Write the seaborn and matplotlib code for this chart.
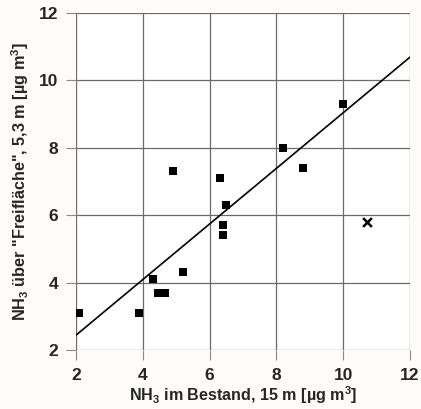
import matplotlib
matplotlib.use("Agg")
import matplotlib.pyplot as plt
import seaborn as sns
import pandas as pd

# Data
bestand_x = [2.1, 3.9, 4.3, 4.45, 4.65, 5.2, 4.9, 6.3, 6.4, 6.4, 6.5, 8.2, 8.8, 10.0]
frei_y    = [3.1, 3.1, 4.1, 3.7, 3.7, 4.3, 7.3, 7.1, 5.7, 5.4, 6.3, 8.0, 7.4, 9.3]
outlier_x = [10.7]
outlier_y = [5.8]
fit_x = [2.0, 12.0]
fit_y = [2.44, 10.69]
ticks = [2, 4, 6, 8, 10, 12]

sns.set_theme(style="white")
plt.rcParams['font.family'] = ['Liberation Sans', 'DejaVu Sans']
plt.rcParams['font.weight'] = 'bold'
plt.rcParams['mathtext.fontset'] = 'custom'
plt.rcParams['mathtext.rm'] = 'Liberation Sans:bold'
plt.rcParams['mathtext.it'] = 'Liberation Sans:bold'
plt.rcParams['mathtext.bf'] = 'Liberation Sans:bold'
plt.rcParams['mathtext.default'] = 'bf'

fig = plt.figure(figsize=(4.21, 4.09), dpi=100, facecolor="#fdfcfa")
ax = fig.add_axes([76/421, 1 - 350/409, (410-76)/421, (350-13)/409])
ax.set_facecolor("white")

df = pd.DataFrame({"x": bestand_x, "y": frei_y})
sns.scatterplot(data=df, x="x", y="y", marker="s", s=30, color="black",
                edgecolor="black", linewidth=0, ax=ax, zorder=3)
sns.scatterplot(x=outlier_x, y=outlier_y, marker="x", s=40, color="black",
                linewidth=1.8, ax=ax, zorder=3)
sns.lineplot(x=fit_x, y=fit_y, color="black", linewidth=1.2, ax=ax, zorder=2)

ax.set_xlim(2, 12)
ax.set_ylim(2, 12)
ax.set_xticks(ticks)
ax.set_yticks(ticks)
ax.grid(True, color="#6a6a6a", linewidth=0.9)
for s in ax.spines.values():
    s.set_visible(False)
ax.tick_params(axis="both", which="both", direction="out", length=7, width=0.8,
               color="#8a8a8a", labelsize=12.5, left=True, bottom=True)
ax.tick_params(axis="y", pad=6)
ax.tick_params(axis="x", pad=6)
for lab in ax.get_xticklabels() + ax.get_yticklabels():
    lab.set_fontweight("bold")

ax.set_xlabel("NH$_3$ im Bestand, 15 m [µg m$^{3}$]", fontsize=11.6, fontweight="bold", labelpad=1)
ax.set_ylabel("NH$_3$ über \"Freifläche\", 5,3 m [µg m$^{3}$]", fontsize=11.7, fontweight="bold")
ax.yaxis.set_label_coords(-0.135, 0.5)

fig.savefig("out.png", dpi=100, facecolor=fig.get_facecolor())
